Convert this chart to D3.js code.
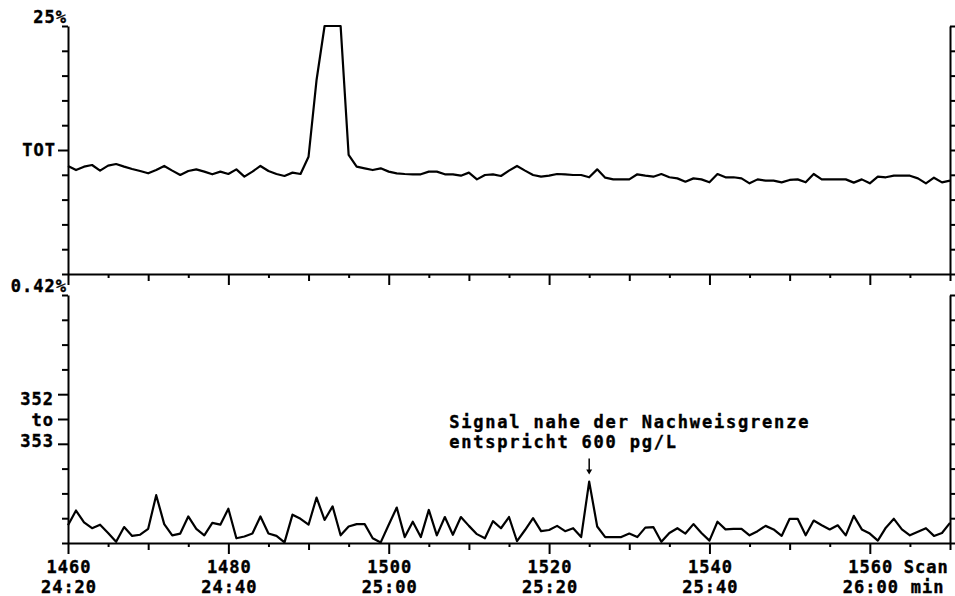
<!DOCTYPE html>
<meta charset="utf-8">
<style>
	body {
		margin:			0px;
		background:		#fff;
	}

	text {
		font-family:	"DejaVu Sans Mono", monospace;
		font-weight:	bold;
		font-size:		17px;
		letter-spacing:	1px;
		fill:			#000;
		stroke:			#000;
		stroke-width:	0.4px;
	}

	.axis path,
	.axis line {
		stroke:			#000;
		stroke-width:	2;
		fill:			none;
	}

	.trace {
		fill:			none;
		stroke:			#000;
		stroke-width:	2.2;
		stroke-linejoin: round;
	}
</style>
<body>
<script src="https://d3js.org/d3.v7.min.js"></script>
<script>

	//First scan of both traces, one value per scan after that
	var firstScan = 1460;

	//Total ion current, % of full scale (peak at 1492-1494 runs off the top)
	var totValues = [
		10.89, 10.48, 10.82, 10.99, 10.42, 10.92, 11.09, 10.82, 10.58, 10.38,
		10.15, 10.48, 10.89, 10.42,  9.98, 10.38, 10.55, 10.32, 10.05, 10.32,
		10.08, 10.55,  9.81, 10.32, 10.89, 10.38, 10.08,  9.88, 10.22, 10.08,
		11.82, 19.56, 26.50, 27.50, 26.00, 12.00, 10.82, 10.65, 10.48, 10.65,
		10.32, 10.15, 10.08, 10.05, 10.05, 10.32, 10.32, 10.05, 10.05,  9.91,
		10.22,  9.54,  9.98, 10.05,  9.88, 10.42, 10.89, 10.42,  9.98,  9.81,
		 9.91, 10.08, 10.05,  9.98,  9.98,  9.75, 10.55,  9.71,  9.54,  9.54,
		 9.54, 10.05,  9.91,  9.81, 10.08,  9.75,  9.64,  9.31,  9.64,  9.54,
		 9.24, 10.08,  9.75,  9.75,  9.64,  9.14,  9.54,  9.41,  9.41,  9.24,
		 9.48,  9.54,  9.24, 10.08,  9.54,  9.54,  9.54,  9.54,  9.21,  9.54,
		 9.14,  9.81,  9.75,  9.91,  9.91,  9.91,  9.64,  9.14,  9.71,  9.24,
		 9.41
	];

	//Mass trace 352 to 353, % of full scale
	var ionValues = [
		0.030, 0.055, 0.035, 0.025, 0.031, 0.017, 0.002, 0.027, 0.012, 0.014,
		0.024, 0.081, 0.032, 0.013, 0.016, 0.045, 0.024, 0.013, 0.034, 0.031,
		0.058, 0.008, 0.011, 0.016, 0.045, 0.016, 0.012, 0.001, 0.048, 0.041,
		0.031, 0.077, 0.039, 0.062, 0.013, 0.028, 0.032, 0.032, 0.008, 0.001,
		0.031, 0.060, 0.010, 0.036, 0.010, 0.056, 0.013, 0.044, 0.014, 0.044,
		0.029, 0.015, 0.008, 0.037, 0.025, 0.044, 0.003, 0.022, 0.042, 0.020,
		0.022, 0.029, 0.020, 0.025, 0.010, 0.104, 0.028, 0.010, 0.010, 0.010,
		0.016, 0.010, 0.026, 0.027, 0.002, 0.017, 0.025, 0.016, 0.032, 0.017,
		0.004, 0.036, 0.023, 0.024, 0.024, 0.013, 0.020, 0.029, 0.023, 0.012,
		0.041, 0.041, 0.013, 0.038, 0.030, 0.023, 0.030, 0.013, 0.046, 0.023,
		0.016, 0.004, 0.026, 0.041, 0.023, 0.013, 0.019, 0.025, 0.012, 0.017,
		0.034
	];

	//Scan axis ticks and labels
	var scanTicks = [1460, 1465, 1470, 1475, 1480, 1485, 1490, 1495, 1500, 1505, 1510,
	                 1515, 1520, 1525, 1530, 1535, 1540, 1545, 1550, 1555, 1560, 1565, 1570];
	var scanLabels = [1460, 1480, 1500, 1520, 1540, 1560];
	var timeLabels = ["24:20", "24:40", "25:00", "25:20", "25:40", "26:00"];

	//Intensity axis ticks
	var totTicks = [0, 2.5, 5, 7.5, 10, 12.5, 15, 17.5, 20, 22.5, 25];
	var ionTicks = [0, 0.042, 0.084, 0.126, 0.168, 0.21, 0.252, 0.294, 0.336, 0.378, 0.42];

	//Annotated peak
	var markScan = 1525;
	var markText = ["Signal nahe der Nachweisgrenze", "entspricht 600 pg/L"];

	var width = 955;
	var height = 596;

	var svg = 		d3.select("body")
						.append("svg")
						.attr("width", width)
						.attr("height", height);

	//Scan scale shared by both panels
	var xScale = 	d3.scaleLinear()
						.domain([1460, 1570])
						.range([68, 950]);
	//Upper panel, clamped so the big peak flattens at 25%
	var yTot = 		d3.scaleLinear()
						.domain([0, 25])
						.range([274, 26])
						.clamp(true);
	//Lower panel
	var yIon = 		d3.scaleLinear()
						.domain([0, 0.42])
						.range([543, 295]);

	//Tick length depends on the scan number
	function tickLen(d) {
		if (d % 20 == 0) return 11;
		if (d % 10 == 0) return 7;
		return 4;
	}

	//Draws one panel: scan axis underneath, intensity axes left and right
	function drawPanel(yScale, ticks, longTicks) {
		var xAxis = d3.axisBottom(xScale)
						.tickValues(scanTicks)
						.tickFormat("")
						.tickSizeOuter(0);
		svg.append("g")
			.attr("class", "axis")
			.attr("transform", "translate(0," + yScale.range()[0] + ")")
			.call(xAxis)
			.selectAll(".tick line")
			.attr("y2", function(d) { return tickLen(d); });

		var left = d3.axisLeft(yScale)
						.tickValues(ticks)
						.tickFormat("")
						.tickSize(6)
						.tickSizeOuter(0);
		svg.append("g")
			.attr("class", "axis")
			.attr("transform", "translate(" + xScale.range()[0] + ",0)")
			.call(left)
			.selectAll(".tick line")
			.attr("x2", function(d, i) { return longTicks.indexOf(i) >= 0 ? -10 : -6; });

		var right = d3.axisRight(yScale)
						.tickValues(ticks)
						.tickFormat("")
						.tickSize(5)
						.tickSizeOuter(0);
		svg.append("g")
			.attr("class", "axis")
			.attr("transform", "translate(" + xScale.range()[1] + ",0)")
			.call(right);
	}

	drawPanel(yTot, totTicks, [5]);
	drawPanel(yIon, ionTicks, [4, 5, 6]);

	//Traces
	var totLine = 	d3.line()
						.x(function(d, i) { return xScale(firstScan + i); })
						.y(function(d) { return yTot(d); });
	var ionLine = 	d3.line()
						.x(function(d, i) { return xScale(firstScan + i); })
						.y(function(d) { return yIon(d); });

	svg.append("path")
		.attr("class", "trace")
		.attr("d", totLine(totValues));
	svg.append("path")
		.attr("class", "trace")
		.attr("d", ionLine(ionValues));

	//Intensity labels
	var x0 = xScale.range()[0];
	svg.append("text").attr("x", x0 - 1).attr("y", yTot(25) - 3)
		.attr("text-anchor", "end").text("25%");
	svg.append("text").attr("x", x0 - 12).attr("y", yTot(12.5) + 6)
		.attr("text-anchor", "end").text("TOT");
	svg.append("text").attr("x", x0 - 1).attr("y", yIon(0.42) - 3)
		.attr("text-anchor", "end").text("0.42%");
	svg.selectAll(".ionlabel")
		.data(["352", "to", "353"])
		.enter()
		.append("text")
		.attr("class", "ionlabel")
		.attr("x", x0 - 14)
		.attr("y", function(d, i) { return yIon(0.21) - 14 + i * 21; })
		.attr("text-anchor", "end")
		.text(function(d) { return d; });

	//Scan and time labels under the lower panel
	var yBase = yIon.range()[0];
	var labels = svg.selectAll(".scanlabel")
		.data(scanLabels)
		.enter()
		.append("text")
		.attr("class", "scanlabel")
		.attr("x", function(d) { return xScale(d) + 1; })
		.attr("text-anchor", "middle");
	labels.append("tspan")
		.attr("y", yBase + 30)
		.text(function(d) { return d; });
	labels.append("tspan")
		.attr("x", function(d) { return xScale(d) + 1; })
		.attr("y", yBase + 50)
		.text(function(d, i) { return timeLabels[i]; });

	//Units after the last label
	var xLast = xScale(scanLabels[scanLabels.length - 1]);
	svg.append("text").attr("x", xLast + 34).attr("y", yBase + 30).text("Scan");
	svg.append("text").attr("x", xLast + 41).attr("y", yBase + 50).text("min");

	//Annotation with arrow to the small peak
	var xm = xScale(markScan);
	var ym = yIon(ionValues[markScan - firstScan]);
	svg.selectAll(".note")
		.data(markText)
		.enter()
		.append("text")
		.attr("class", "note")
		.attr("x", xm - 140)
		.attr("y", function(d, i) { return ym - 54 + i * 20; })
		.style("letter-spacing", "1.8px")
		.text(function(d) { return d; });
	svg.append("line")
		.attr("x1", xm).attr("x2", xm)
		.attr("y1", ym - 23).attr("y2", ym - 10)
		.attr("stroke", "#000")
		.attr("stroke-width", 1.5);
	svg.append("path")
		.attr("d", "M" + (xm - 3) + "," + (ym - 12) + "L" + (xm + 3) + "," + (ym - 12) + "L" + xm + "," + (ym - 7) + "Z")
		.attr("fill", "#000");

</script>
</body>
